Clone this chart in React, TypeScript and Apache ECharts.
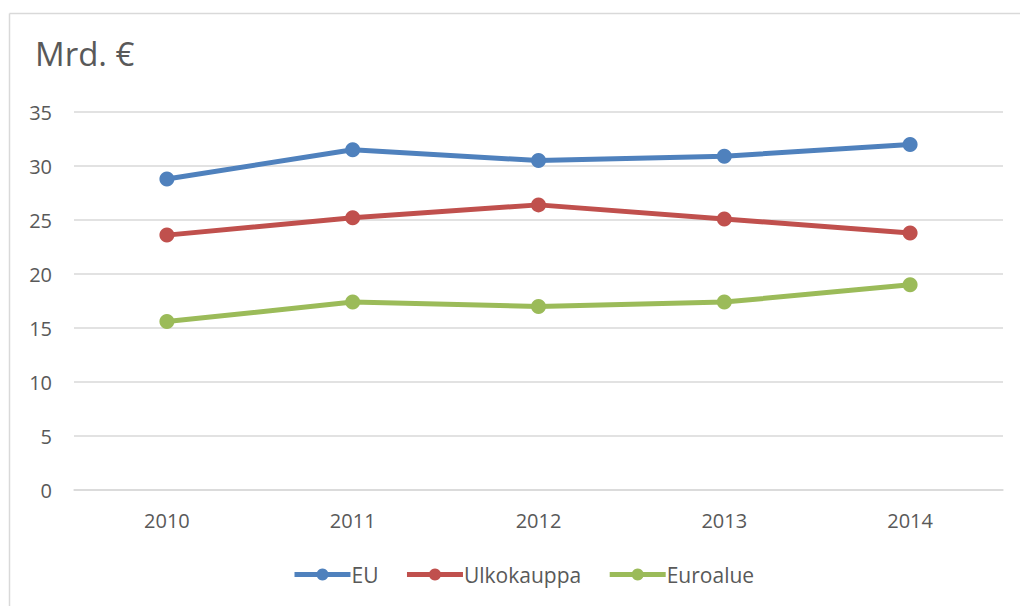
import React, { useEffect, useRef } from "react";
import * as echarts from "echarts";

const years = ["2010", "2011", "2012", "2013", "2014"];
const euValues = [28.8, 31.5, 30.5, 30.9, 32.0];
const ulkokauppaValues = [23.6, 25.2, 26.4, 25.1, 23.8];
const euroalueValues = [15.6, 17.4, 17.0, 17.4, 19.0];
const seriesNames = ["EU", "Ulkokauppa", "Euroalue"];
const seriesColors = ["#4f81bd", "#c0504d", "#9bbb59"];
const yTitle = "Mrd. €";

const FONT = "'Open Sans', 'Liberation Sans', sans-serif";

export default function App() {
  const ref = useRef<HTMLDivElement>(null);
  useEffect(() => {
    if (!ref.current) return;
    const chart = echarts.init(ref.current, undefined, { renderer: "svg" });
    const data = [euValues, ulkokauppaValues, euroalueValues];
    chart.setOption({
      animation: false,
      backgroundColor: "#ffffff",
      textStyle: { fontFamily: FONT },
      graphic: [
        { type: "line", shape: { x1: 9.5, y1: 13.5, x2: 1020, y2: 13.5 }, style: { stroke: "#d9d9d9", lineWidth: 1.5 } },
        { type: "line", shape: { x1: 9.5, y1: 13.5, x2: 9.5, y2: 606 }, style: { stroke: "#d9d9d9", lineWidth: 1.5 } },
        {
          type: "text",
          left: 35,
          top: 37,
          style: { text: yTitle, fontSize: 33, fill: "#595959", fontFamily: FONT },
        },
      ],
      grid: { left: 74, right: 17, top: 112, bottom: 116, containLabel: false },
      legend: {
        data: seriesNames,
        bottom: 16,
        left: 287,
        itemWidth: 56,
        itemHeight: 15,
        itemGap: 26,
        lineStyle: { width: 5 },
        textStyle: { fontSize: 21, color: "#595959", fontFamily: FONT, padding: [0, 0, 0, -4] },
      },
      xAxis: {
        type: "category",
        data: years,
        boundaryGap: true,
        axisLine: { show: true, lineStyle: { color: "#d9d9d9", width: 1.5 } },
        axisTick: { show: false },
        axisLabel: { color: "#595959", fontSize: 20, margin: 20, fontFamily: FONT },
        splitLine: { show: false },
      },
      yAxis: {
        type: "value",
        min: 0,
        max: 35,
        interval: 5,
        axisLine: { show: false },
        axisTick: { show: false },
        axisLabel: { color: "#595959", fontSize: 20, margin: 22, fontFamily: FONT },
        splitLine: { show: true, lineStyle: { color: "#d9d9d9", width: 1.5 } },
      },
      series: seriesNames.map((name, i) => ({
        name,
        type: "line",
        data: data[i],
        color: seriesColors[i],
        symbol: "circle",
        symbolSize: 15,
        lineStyle: { width: 5, color: seriesColors[i] },
        itemStyle: { color: seriesColors[i] },
      })),
    });
    return () => chart.dispose();
  }, []);
  return (
    <div
      ref={ref}
      style={{ position: "fixed", left: 0, top: 0, width: 1020, height: 606 }}
    />
  );
}
